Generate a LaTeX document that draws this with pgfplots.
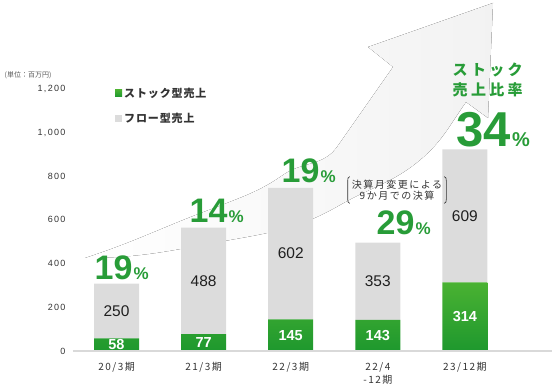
\documentclass[border=0pt]{standalone}
\usepackage{fontspec}
\usepackage{pgfplots}
\pgfplotsset{compat=1.18}
\newfontfamily\jpfont{Noto Sans CJK JP}
\newfontfamily\jplegfont{Noto Sans CJK JP}[LetterSpace=8]
\newfontfamily\jplsfont{Noto Sans CJK JP}[LetterSpace=15]
\newfontfamily\jpbigfont{Noto Sans CJK JP}[LetterSpace=22]
\newfontfamily\arfont{Liberation Sans}
\newfontfamily\arlsfont{Liberation Sans}[LetterSpace=15]
\definecolor{pgreen}{RGB}{40,156,56}
\definecolor{gtop}{RGB}{74,178,50}
\definecolor{gbot}{RGB}{30,152,46}
\definecolor{lgray}{RGB}{220,220,220}
\definecolor{txt}{RGB}{51,51,51}
\newcommand\pct[3]{{\fontsize{#2}{#2}\selectfont\arfont\bfseries #1}\hspace{1pt}{\fontsize{#3}{#3}\selectfont\arfont\bfseries\%}}
\tikzset{
  glab/.style={font=\fontsize{14.5}{14.5}\selectfont\arfont\bfseries, text=white},
  wlab/.style={font=\fontsize{15.5}{15.5}\selectfont\arfont, text=black!88},
  plab/.style={anchor=base west, inner sep=0pt, text=pgreen},
}
\begin{document}
\begin{tikzpicture}[x=1pt,y=1pt]
\useasboundingbox (0,0) rectangle (552,386);
% decorative arrow
\fill[left color=white, middle color=black!8, right color=black!5]
  (85,128) to[out=18,in=200] (217,179) to[out=22,in=215] (283,211) to[out=35,in=235] (337,239) to[out=55,in=235] (393,319)
  -- (368,339) -- (493,383) -- (488,268) -- (466,284)
  to[out=235,in=40] (420,226) to[out=220,in=30] (340,181) to[out=210,in=10] (230,146) to[out=190,in=0] (85,128) -- cycle;
\begin{axis}[
  at={(73pt,35pt)}, anchor=south west, scale only axis,
  width=479pt, height=262.2pt,
  xmin=-0.5, xmax=5, ymin=0, ymax=1200,
  ybar stacked, bar width=45pt,
  axis line style={draw=none},
  major tick length=0pt, tick style={draw=none},
  ytick={0,200,...,1200},
  xtick={0,...,4},
  xticklabels={20/3期,21/3期,22/3期,{22/4\\-12期},23/12期},
  xticklabel style={font=\fontsize{10}{13}\selectfont\jplsfont, align=center, text=txt, yshift=-8pt},
  yticklabel style={font=\fontsize{9}{9}\selectfont\arlsfont, text=txt, xshift=-4pt},
  /pgf/number format/1000 sep={,},
  /pgf/number format/assume math mode=true,
  clip=false,
  legend style={at={(0.0814,1.02)}, anchor=north west, draw=none, fill=none,
    font=\fontsize{11}{11}\selectfont\jplegfont\bfseries, text=txt, row sep=10pt,
    /tikz/every even column/.append style={column sep=2pt}},
  legend cell align=left,
]
\draw[black!15, line width=1.2pt] (axis cs:-0.5,0) -- (axis cs:5,0);
\addplot[draw=none, top color=gtop, bottom color=gbot,
  legend image code/.code={\fill[gtop!60!gbot] (0pt,-3.5pt) rectangle (7pt,3.5pt);}]
  coordinates {(0,58) (1,77) (2,145) (3,143) (4,314)};
\addlegendentry{ストック型売上}
\addplot[draw=none, fill=lgray,
  legend image code/.code={\fill[lgray] (0pt,-3.5pt) rectangle (7pt,3.5pt);}]
  coordinates {(0,250) (1,488) (2,602) (3,353) (4,609)};
\addlegendentry{フロー型売上}
% percentages
\node[plab] at (axis cs:-0.253,329.5) {\pct{19}{34}{17}};
\node[plab] at (axis cs:0.838,590) {\pct{14}{34}{17}};
\node[plab] at (axis cs:1.894,769) {\pct{19}{34}{17}};
\node[plab] at (axis cs:2.985,531) {\pct{29}{34}{17}};
\node[plab] at (axis cs:3.904,934) {\pct{34}{49}{20}};
\node[anchor=west, inner sep=0pt, text=pgreen, align=left, font=\fontsize{15}{20}\selectfont\jpbigfont\bfseries] at (axis cs:3.858,1240) {ストック\\売上比率};
% unit
\node[anchor=west, inner sep=0pt, text=black!65, font=\fontsize{7}{7}\selectfont\jpfont] at (axis cs:-1.286,1263) {(単位：百万円)};
\end{axis}
% value labels (centres of segments: x = 116.5 + 87.09 i, y = 35 + 0.2185 v)
\node[glab] at (116.5,41.3) {58};
\node[glab] at (203.6,43.4) {77};
\node[glab] at (290.7,50.8) {145};
\node[glab] at (377.8,50.6) {143};
\node[glab] at (464.9,69.3) {314};
\node[wlab] at (116.5,75.0) {250};
\node[wlab] at (203.6,105.1) {488};
\node[wlab] at (290.7,132.5) {602};
\node[wlab] at (377.8,104.8) {353};
\node[wlab] at (464.9,170.1) {609};
% note
\node[inner xsep=4pt, inner ysep=2pt, align=center, text=txt, font=\fontsize{10}{11}\selectfont\jplsfont] (note) at (397,196) {決算月変更による\\9か月での決算};
\draw[txt, line width=0.6pt] ([xshift=2pt,yshift=1pt]note.north west) to[out=180,in=90] ([yshift=-3pt]note.north west) -- ([yshift=3pt]note.south west) to[out=270,in=180] ([xshift=2pt,yshift=-1pt]note.south west);
\draw[txt, line width=0.6pt] ([xshift=-2pt,yshift=1pt]note.north east) to[out=0,in=90] ([yshift=-3pt]note.north east) -- ([yshift=3pt]note.south east) to[out=270,in=0] ([xshift=-2pt,yshift=-1pt]note.south east);
\end{tikzpicture}
\end{document}
